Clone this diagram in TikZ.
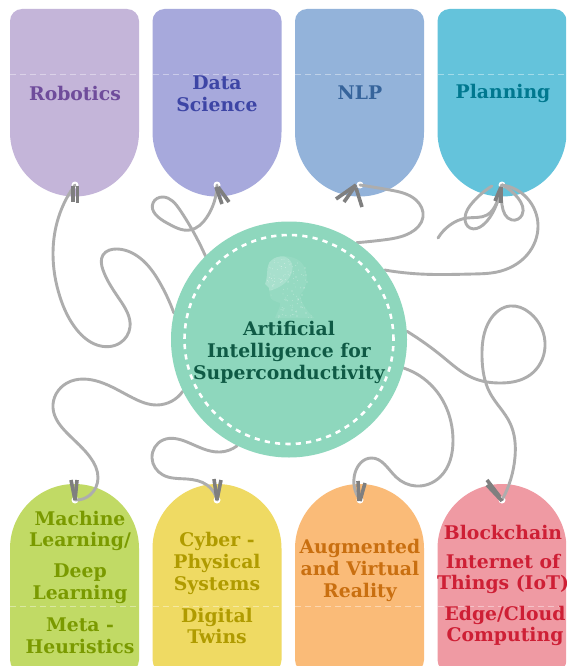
\documentclass[tikz,border=0pt]{standalone}
\usepackage{fontspec}
\setmainfont{DejaVu Serif}
\usetikzlibrary{hobby}
\definecolor{cRob}{HTML}{C4B5D9}\definecolor{tRob}{HTML}{6F4C9B}
\definecolor{cDat}{HTML}{A7A9DC}\definecolor{tDat}{HTML}{3D45A5}
\definecolor{cNlp}{HTML}{93B3DA}\definecolor{tNlp}{HTML}{36649B}
\definecolor{cPla}{HTML}{64C3DB}\definecolor{tPla}{HTML}{00788F}
\definecolor{cMac}{HTML}{C1DA65}\definecolor{tMac}{HTML}{7A9A00}
\definecolor{cCyb}{HTML}{EFDA63}\definecolor{tCyb}{HTML}{B09B00}
\definecolor{cAug}{HTML}{FABB78}\definecolor{tAug}{HTML}{C96F10}
\definecolor{cBlo}{HTML}{EF9AA3}\definecolor{tBlo}{HTML}{CE1F35}
\definecolor{cHub}{HTML}{8ED7BD}\definecolor{tHub}{HTML}{0F5A45}
\definecolor{cStr}{HTML}{ADADAD}\definecolor{cClip}{HTML}{7F7F7F}
\tikzset{
  stringline/.style={draw=cStr,line width=2.9pt,line cap=round,use Hobby shortcut},
  clipline/.style={draw=cClip,line width=3.6pt,line cap=butt},
  fold/.style={draw=white,opacity=.4,line width=.9pt,dash pattern=on 6pt off 4pt},
  holenode/.style={circle,fill=white,minimum size=7pt,inner sep=0pt},
  tagtext/.style={font=\fontsize{18.8}{21.7}\selectfont\bfseries,align=center,inner sep=0pt},
}
\newcommand{\toptag}[2]{%
  \fill[#2] (#1,21) -- (#1+0,132) arc[start angle=180,end angle=0,radius=64.5]
    -- (#1+129,21) arc[start angle=0,end angle=-90,radius=12]
    -- (#1+12,9) arc[start angle=-90,end angle=-180,radius=12] -- cycle;
  \draw[fold] (#1,74) -- (#1+129,74);}
\newcommand{\bottag}[2]{%
  \fill[#2] (#1,548.5) arc[start angle=180,end angle=360,radius=64.5]
    -- (#1+129,660) arc[start angle=0,end angle=90,radius=12]
    -- (#1+12,672) arc[start angle=90,end angle=180,radius=12] -- cycle;
  \draw[fold] (#1,606) -- (#1+129,606);}
\begin{document}
\begin{tikzpicture}[x=1pt,y=-1pt]
\useasboundingbox (0,0) rectangle (566,666);
\clip (0,0) rectangle (566,666);
\fill[white] (0,0) rectangle (566,666);
% tags
\toptag{10}{cRob}\toptag{152.5}{cDat}\toptag{295}{cNlp}\toptag{437.5}{cPla}
\bottag{10}{cMac}\bottag{152.5}{cCyb}\bottag{295}{cAug}\bottag{437.5}{cBlo}
% holes
\node[holenode] (h1) at (75,185) {};
\node[holenode] (h2) at (217,185) {};
\node[holenode] (h3) at (360,185) {};
\node[holenode] (h4) at (502,185) {};
\node[holenode] (h5) at (75,500) {};
\node[holenode] (h6) at (217,500) {};
\node[holenode] (h7) at (360,500) {};
\node[holenode] (h8) at (502,500) {};
\path node[circle,minimum size=236pt,inner sep=0pt] (hubanchor) at (289,339.5) {};
% strings
\draw[stringline] (h1.center) .. (60,213) .. (53,253) .. (60,297) .. (77,330) .. (97,345) .. (120,343) .. (130,327) .. (120,300) .. (103,270) .. (103,255) .. (117,249) .. (140,258) .. (160,283) .. (hubanchor.167);
\draw[stringline] (h2.center) .. (207,217) .. (190,230) .. (167,223) .. (153,203) .. (163,197) .. (180,210) .. (hubanchor.135);
\draw[stringline] (h3.center) .. (390,190) .. (416,200) .. (423,217) .. (410,233) .. (383,240) .. (hubanchor.55);
\draw[stringline] (h4.center) .. (527,198) .. (538,225) .. (527,255) .. (497,272) .. (473,274) .. (420,274) .. (hubanchor.36);
\coordinate (tail) at (438,238);
\coordinate (loopend) at (492,186);
\draw[stringline] (tail) .. (450,225) .. (467,218) .. (487,215) .. (497,202) .. (h4.center);
\draw[stringline] (loopend) .. (473,202) .. (465,218) .. (470,228) .. (483,225) .. (495,208) .. (h4.center);
\draw[stringline] (h4.center) .. (502,205) .. (512,220) .. (522,215) .. (518,198) .. (h4.center);
\draw[stringline] (hubanchor.206) .. (157,405) .. (133,398) .. (100,382) .. (67,383) .. (53,408) .. (67,433) .. (90,457) .. (98,478) .. (90,495) .. (h5.center);
\draw[stringline] (hubanchor.244) .. (220,452) .. (187,442) .. (163,440) .. (152,458) .. (163,475) .. (187,479) .. (207,485) .. (h6.center);
\draw[stringline] (hubanchor.-14) .. (433,387) .. (453,440) .. (440,477) .. (416,486) .. (396,477) .. (371,458) .. (355,473) .. (h7.center);
\draw[stringline] (hubanchor.4.5) .. (443,357) .. (473,378) .. (500,383) .. (530,375) .. (545,347) .. (530,313) .. (510,306) .. (490,320) .. (482,357) .. (490,393) .. (510,423) .. (515,457) .. (h8.center);
% clips
\draw[clipline] (h1.center) ++(-2,1) -- ++(0,16);
\draw[clipline] (h1.center) ++(2.5,1) -- ++(0,17);
\draw[clipline] (h2.center) ++(-1,2) -- ++(6,17);
\draw[clipline] (h2.center) ++(1,2) -- ++(11,15);
\draw[clipline] (h3.center) ++(-4,0) -- ++(-20,14);
\draw[clipline] (h3.center) ++(-4,0) -- ++(-12,17);
\draw[clipline] (h3.center) ++(-4,3) -- ++(6,19);
\draw[clipline] (h4.center) ++(-1,2) -- ++(-6,14);
\draw[clipline] (h4.center) ++(-1,2) -- ++(0,16);
\draw[clipline] (h5.center) -- ++(-4,-20);
\draw[clipline] (h5.center) -- ++(2,-20);
\draw[clipline] (h6.center) -- ++(-3,-21);
\draw[clipline] (h6.center) -- ++(4,-20);
\draw[clipline] (h7.center) ++(-1,1) -- ++(-1,-20);
\draw[clipline] (h7.center) ++(0,1) -- ++(5,-18);
\draw[clipline] (h8.center) ++(0,1) -- ++(-15,-16);
\draw[clipline] (h8.center) ++(-2,-3) -- ++(-13,-17);
% hub
\node[circle,fill=cHub,minimum size=236pt,inner sep=0pt] (hub) at (289,339.5) {};
\node[circle,draw=white,line width=2.6pt,dash pattern=on 5.2pt off 5.2pt,minimum size=209pt,inner sep=0pt] (ring) at (hub.center) {};
% head
\begin{scope}
\path[clip] (280,256.5) .. controls (292,255) and (304,260) .. (306,272)
  .. controls (308,282) and (305,290) .. (300,295) .. controls (302,304) and (306,310) .. (314,318)
  -- (275,318) .. controls (278,310) and (281,306) .. (280,303)
  .. controls (275,301) and (270,300) .. (270,296) -- (269,288) -- (265,284)
  .. controls (268,278) and (266,266) .. (270,262) .. controls (272,259) and (276,257) .. (280,256.5) -- cycle;
\fill[white,opacity=.08] (260,250) rectangle (320,320);
\fill[white,opacity=.18] (264,254) .. controls (285,254) and (295,258) .. (292,272) .. controls (288,285) and (275,290) .. (264,292) -- cycle;
\pgfmathsetseed{42}
\foreach \i in {1,...,170}{
  \pgfmathsetmacro{\dx}{262+50*rnd}\pgfmathsetmacro{\dy}{254+64*rnd}
  \fill[white,opacity=.4] (\dx,\dy) circle[radius=.45];}
\end{scope}
\foreach \px/\py in {305/268,306/275,307/282,304/288,302/295,296/277,288/282,292/291,298/299,301/307,292/310,283/310,286/300,306/313,279/316,297/316}
  \fill[white,opacity=.5] (\px,\py) circle[radius=.7];
% texts
\node[tagtext,text=tHub] (thub) at (289,352.5) {Artificial\\Intelligence for\\Superconductivity};
\node[tagtext,text=tRob] (t1) at (75,93) {Robotics};
\node[tagtext,text=tDat] (t2) at (217,94) {Data\\Science};
\node[tagtext,text=tNlp] (t3) at (360,93) {NLP};
\node[tagtext,text=tPla] (t4) at (503,93) {Planning};
\node[tagtext,text=tMac] (t5a) at (80,531) {Machine\\Learning/};
\node[tagtext,text=tMac] (t5b) at (80,584) {Deep\\Learning};
\node[tagtext,text=tMac] (t5c) at (80,636) {Meta -\\Heuristics};
\node[tagtext,text=tCyb] (t6a) at (217,563.5) {Cyber -\\Physical\\Systems};
\node[tagtext,text=tCyb] (t6b) at (217,626) {Digital\\Twins};
\node[tagtext,text=tAug] (t7) at (360,570.5) {Augmented\\and Virtual\\Reality};
\node[tagtext,text=tBlo] (t8a) at (503,532) {Blockchain};
\node[tagtext,text=tBlo] (t8b) at (503,574) {Internet of\\Things (IoT)};
\node[tagtext,text=tBlo] (t8c) at (505,626) {Edge/Cloud\\Computing};
\end{tikzpicture}
\end{document}
